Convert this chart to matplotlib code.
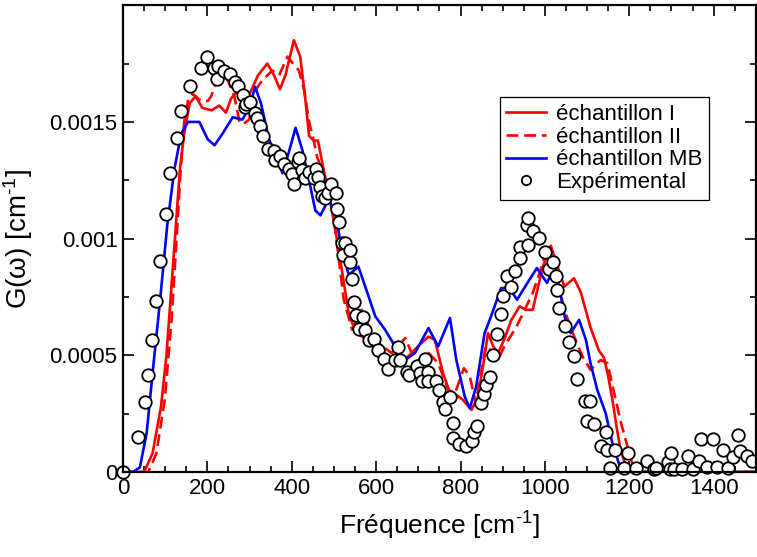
import matplotlib
matplotlib.use("Agg")
import matplotlib.pyplot as plt
import numpy as np

plt.rcParams['font.family'] = ['Liberation Sans', 'DejaVu Sans']
plt.rcParams['mathtext.fontset'] = 'custom'
plt.rcParams['mathtext.rm'] = 'Liberation Sans'
plt.rcParams['mathtext.it'] = 'Liberation Sans'

# G(w) values below are in units of 1e-4 cm^-1
ech1_x = [0, 50, 70, 90, 103, 115, 125, 135, 145, 158, 172, 188, 210, 228, 244,
          256, 270, 285, 300, 320, 342, 358, 372, 385, 405, 420, 432, 441, 452,
          462, 475, 490, 505, 520, 535, 551, 574, 598, 621, 645, 676, 700, 724,
          739, 759, 775, 790, 805, 826, 841, 857, 865, 877, 889, 904, 920, 940,
          955, 971, 995, 1014, 1030, 1046, 1069, 1085, 1108, 1128, 1140, 1150,
          1160, 1171, 1180, 1191, 1205, 1500]
ech1_y = [0, 0, 0.8, 2.8, 5.0, 8.0, 10.5, 13.0, 14.5, 15.8, 16.1, 15.6, 15.5,
          15.7, 15.4, 16.0, 16.3, 15.8, 16.2, 17.0, 17.5, 17.0, 16.4, 17.0, 18.5,
          17.8, 16.0, 14.4, 14.2, 14.2, 13.0, 11.7, 10.2, 8.5, 6.8, 6.0, 5.7, 5.5,
          4.95, 4.8, 4.95, 5.4, 5.8, 5.67, 4.2, 3.4, 3.3, 3.1, 2.66, 3.2, 4.95,
          5.95, 5.4, 5.1, 5.7, 6.5, 7.1, 6.95, 6.95, 8.8, 9.7, 8.8, 7.95, 8.3,
          7.7, 6.2, 5.2, 4.9, 4.1, 3.1, 1.8, 0.9, 0.3, 0, 0]

ech2_x = [0, 60, 79, 99, 115, 125, 135, 145, 155, 165, 185, 201, 209, 221, 233,
          248, 264, 276, 284, 299, 315, 331, 354, 370, 390, 403, 417, 429, 441,
          452, 460, 475, 496, 504, 523, 543, 566, 590, 613, 637, 669, 684, 708,
          724, 747, 771, 787, 808, 822, 836, 849, 860, 873, 889, 904, 932, 952,
          971, 987, 1000, 1018, 1030, 1046, 1066, 1089, 1108, 1132, 1148, 1164,
          1179, 1191, 1207, 1215, 1500]
ech2_y = [0, 0, 0.8, 3.1, 6.5, 9.4, 12.5, 15.0, 16.0, 16.2, 15.9, 15.9, 16.1,
          16.7, 17.0, 16.8, 16.1, 15.0, 14.9, 15.1, 16.4, 16.8, 17.2, 17.0, 17.8,
          17.5, 17.2, 16.4, 15.0, 14.2, 13.5, 12.8, 11.3, 10.25, 7.4, 6.1, 6.95,
          5.95, 5.4, 5.1, 5.74, 5.1, 4.67, 5.1, 4.67, 3.52, 3.38, 4.45, 4.1, 2.95,
          4.3, 5.4, 5.2, 4.8, 5.4, 6.2, 6.95, 7.67, 8.5, 9.3, 8.96, 8.24, 6.95,
          5.95, 4.95, 4.38, 4.8, 4.67, 3.4, 2.2, 1.4, 0.35, 0, 0]

mb_x = [0, 24, 40, 56, 71, 87, 105, 122, 138, 154, 181, 201, 217, 236, 260, 283,
        299, 313, 327, 346, 366, 378, 393, 409, 425, 441, 456, 468, 488, 504,
        519, 535, 558, 574, 598, 621, 645, 669, 692, 724, 747, 775, 790, 810, 822,
        837, 857, 873, 896, 916, 934, 955, 981, 1005, 1022, 1038, 1050, 1061,
        1081, 1097, 1108, 1124, 1144, 1160, 1179, 1190, 1500]
mb_y = [0, 0, 0.2, 1.66, 4.4, 7.2, 10.6, 13.0, 14.5, 15.0, 15.0, 14.25, 14.0,
        14.5, 15.2, 15.1, 15.6, 16.5, 15.8, 14.25, 13.4, 12.8, 13.7, 14.75, 13.8,
        12.5, 11.2, 11.0, 11.7, 11.0, 9.5, 8.45, 8.8, 7.95, 6.67, 6.1, 5.38, 4.8,
        5.1, 6.17, 5.38, 6.6, 4.8, 3.23, 2.73, 3.66, 5.95, 6.7, 7.88, 7.88, 7.38,
        8.0, 8.74, 8.1, 8.8, 7.52, 6.38, 5.95, 6.52, 5.67, 4.67, 3.52, 2.52, 1.23,
        0.16, 0, 0]

exp_x = [0, 35, 52, 60, 69, 78, 87, 103, 112, 128, 137, 158, 186, 200, 215, 222,
         226, 240, 253, 266, 273, 285, 289, 292, 300, 312, 317, 324, 332, 344,
         357, 360, 373, 382, 393, 401, 405, 414, 417, 424, 432, 441, 453, 458,
         462, 467, 471, 478, 486, 494, 504, 508, 511, 518, 521, 527, 537, 538,
         543, 547, 553, 560, 570, 574, 584, 594, 604, 618, 628, 644, 651, 657,
         673, 678, 696, 705, 708, 716, 722, 724, 743, 749, 759, 764, 776, 782,
         783, 796, 812, 827, 831, 839, 849, 855, 861, 871, 877, 886, 895, 900,
         910, 919, 929, 940, 942, 957, 959, 961, 971, 987, 1001, 1010, 1018, 1026,
         1028, 1034, 1047, 1058, 1069, 1077, 1094, 1099, 1106, 1117, 1132, 1144,
         1148, 1154, 1167, 1187, 1197, 1217, 1242, 1259, 1264, 1292, 1297, 1299,
         1306, 1326, 1340, 1352, 1366, 1369, 1384, 1398, 1407, 1421, 1435, 1446,
         1458, 1462, 1480, 1492]
exp_y = [0, 1.49, 3.02, 4.16, 5.64, 7.34, 9.03, 11.07, 12.82, 14.29, 15.46,
         16.54, 17.3, 17.78, 17.33, 16.85, 17.4, 17.18, 17.07, 16.73, 16.54,
         16.15, 15.65, 15.75, 15.85, 15.4, 15.18, 14.82, 14.39, 13.85, 13.75,
         13.39, 13.53, 13.21, 12.99, 12.79, 12.36, 13.28, 13.46, 12.93, 12.61,
         12.85, 12.61, 12.99, 12.66, 12.22, 11.82, 11.73, 11.94, 12.36, 11.96,
         11.25, 10.7, 9.82, 9.31, 9.82, 8.98, 9.5, 8.27, 7.27, 6.71, 6.12, 6.64,
         6.09, 5.67, 5.71, 5.24, 4.85, 4.41, 4.78, 5.35, 4.78, 4.3, 4.16, 4.55,
         4.26, 3.92, 4.85, 4.3, 3.92, 3.88, 3.52, 3.02, 2.69, 3.23, 2.09, 1.45,
         1.19, 1.12, 1.34, 1.73, 1.97, 2.97, 3.35, 3.73, 4.09, 5.02, 5.92, 6.78,
         7.52, 8.41, 7.93, 8.6, 9.63, 9.18, 10.59, 9.73, 10.9, 10.34, 10.03, 9.41,
         8.7, 8.98, 8.41, 7.78, 7.03, 6.24, 5.55, 4.99, 3.98, 3.06, 2.19, 3.06,
         2.06, 1.13, 1.73, 0.94, 0.16, 0.94, 0.18, 0.8, 0.16, 0.48, 0.12, 0.16,
         0.44, 0.12, 0.8, 0.12, 0.12, 0.69, 0.12, 0.48, 1.4, 0.2, 1.4, 0.23, 0.94,
         0.16, 0.63, 1.59, 0.91, 0.69, 0.48]

x_ticks = [0, 200, 400, 600, 800, 1000, 1200, 1400]
y_ticks = [0, 0.0005, 0.001, 0.0015]
y_tick_labels = ['0', '0.0005', '0.001', '0.0015']

scale = 1e-4

fig = plt.figure(figsize=(7.57, 5.57), dpi=100)
ax = fig.add_axes([0.1625, 0.1526, 0.836, 0.838])

ax.plot(ech1_x, np.array(ech1_y) * scale, color='#ff0000', lw=1.9,
        label='échantillon I')
ax.plot(ech2_x, np.array(ech2_y) * scale, color='#ff0000', lw=1.9,
        linestyle=(0, (4.5, 2.2)), label='échantillon II')
ax.plot(mb_x, np.array(mb_y) * scale, color='#0000ff', lw=1.9,
        label='échantillon MB')
ax.plot(exp_x, np.array(exp_y) * scale, linestyle='none', marker='o', ms=9,
        mfc='white', mec='black', mew=1.3, label='Expérimental', clip_on=False)

ax.set_xlim(0, 1500)
ax.set_ylim(0, 0.002)
ax.set_xticks(x_ticks)
ax.set_xticks(np.arange(0, 1501, 50), minor=True)
ax.set_yticks(y_ticks)
ax.set_yticklabels(y_tick_labels)
ax.set_yticks(np.arange(0, 0.00201, 0.00025), minor=True)

ax.tick_params(which='both', direction='in', top=True, right=True,
               width=1.2, labelsize=16, pad=4)
ax.tick_params(which='major', length=8)
ax.tick_params(which='minor', length=4)
for s in ax.spines.values():
    s.set_linewidth(1.6)

ax.set_xlabel('Fréquence [cm$^{\\text{-1}}$]', fontsize=19, labelpad=8)
ax.set_ylabel('G(ω) [cm$^{\\text{-1}}$]', fontsize=20, labelpad=10)

leg = ax.legend(loc='upper left', bbox_to_anchor=(0.595, 0.803), fontsize=16,
                frameon=True, fancybox=False, framealpha=1, edgecolor='black',
                borderaxespad=0, borderpad=0.3, labelspacing=0.08,
                handlelength=1.8, handletextpad=0.45, numpoints=1,
                markerscale=0.75)
leg.get_frame().set_linewidth(0.9)

fig.savefig('out.png', dpi=100)
